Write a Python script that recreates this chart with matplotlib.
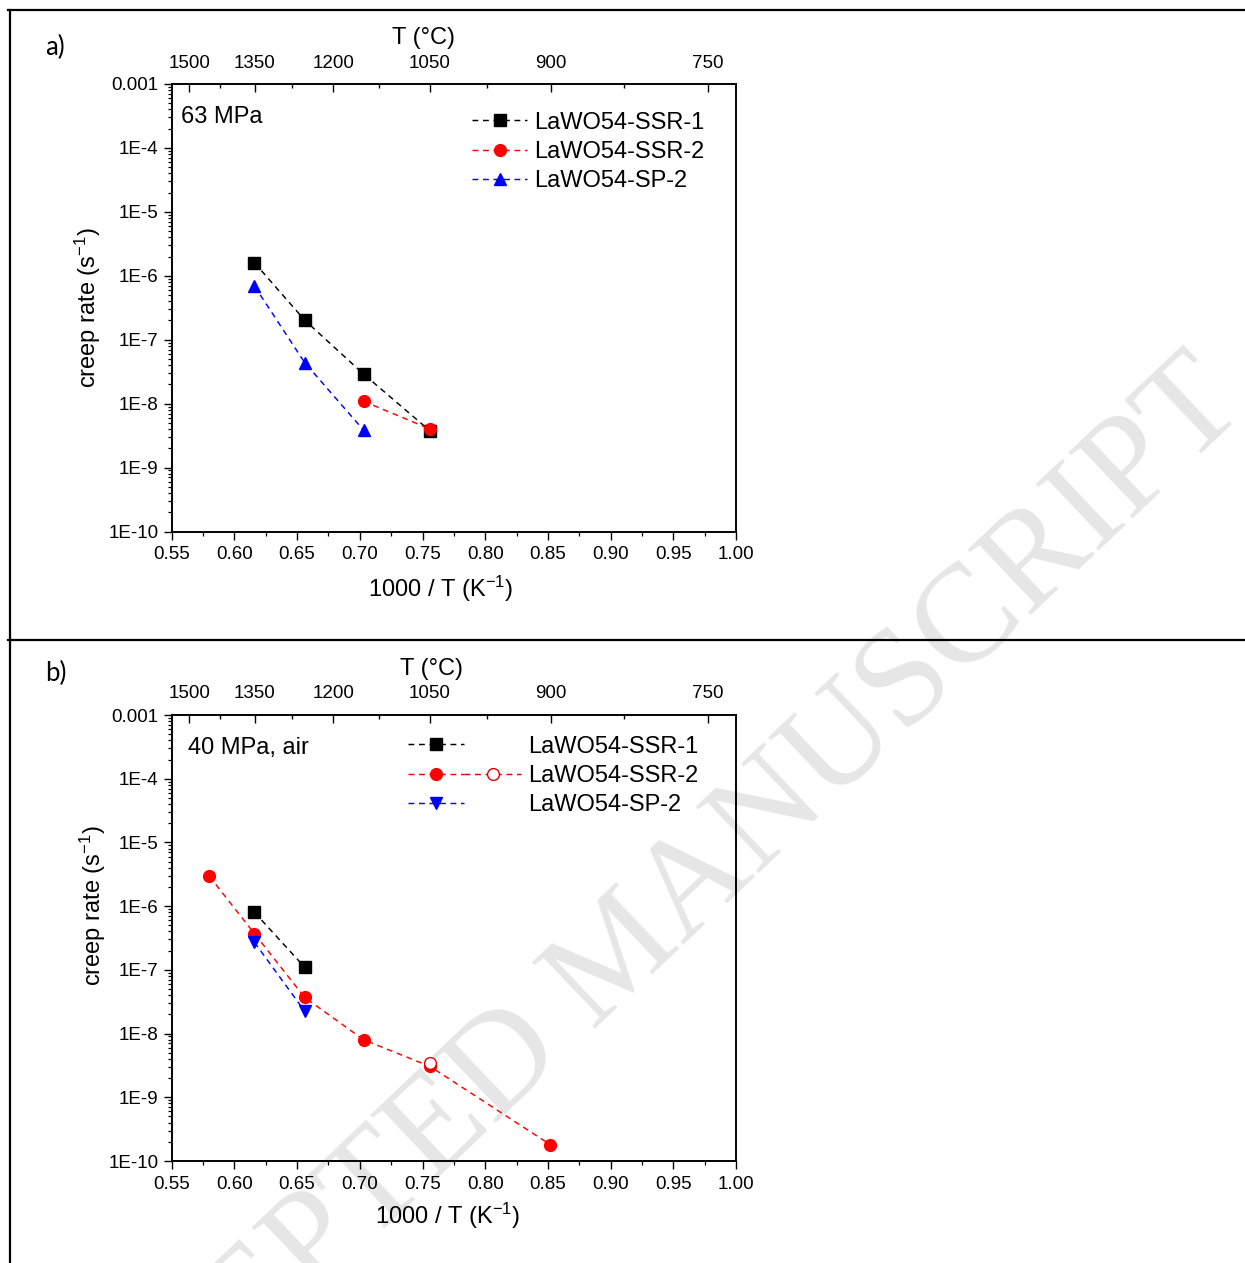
import matplotlib
matplotlib.use('Agg')
import matplotlib.pyplot as plt
from matplotlib.lines import Line2D
from matplotlib.legend_handler import HandlerTuple
from matplotlib.ticker import FixedLocator, LogLocator, NullFormatter

plt.rcParams['font.family'] = ['Liberation Sans', 'DejaVu Sans']
plt.rcParams['mathtext.default'] = 'regular'

# ---------------- data ----------------
series_names = ['LaWO54-SSR-1', 'LaWO54-SSR-2', 'LaWO54-SP-2']

# panel a) 63 MPa
a_ssr1_x = [0.616, 0.656, 0.703, 0.756]
a_ssr1_y = [1.6e-6, 2.03e-7, 2.9e-8, 3.75e-9]
a_ssr2_x = [0.703, 0.756]
a_ssr2_y = [1.09e-8, 4.0e-9]
a_sp2_x = [0.616, 0.656, 0.703]
a_sp2_y = [6.9e-7, 4.4e-8, 3.85e-9]

# panel b) 40 MPa, air
b_ssr1_x = [0.616, 0.656]
b_ssr1_y = [8.0e-7, 1.1e-7]
b_ssr2_x = [0.580, 0.616, 0.656, 0.703, 0.756, 0.852]
b_ssr2_y = [2.95e-6, 3.7e-7, 3.7e-8, 8.0e-9, 3.05e-9, 1.8e-10]
b_ssr2_open_x = [0.756]
b_ssr2_open_y = [3.5e-9]
b_sp2_x = [0.616, 0.656]
b_sp2_y = [2.7e-7, 2.25e-8]

x_ticks = [0.55, 0.60, 0.65, 0.70, 0.75, 0.80, 0.85, 0.90, 0.95, 1.00]
x_minor = [0.575, 0.625, 0.675, 0.725, 0.775, 0.825, 0.875, 0.925, 0.975]
y_ticks = [1e-3, 1e-4, 1e-5, 1e-6, 1e-7, 1e-8, 1e-9, 1e-10]
y_labels = ['0.001', '1E-4', '1E-5', '1E-6', '1E-7', '1E-8', '1E-9', '1E-10']
T_major = [1500, 1350, 1200, 1050, 900, 750]
T_minor = [1425, 1275, 1125, 975, 825]

# ---------------- figure ----------------
W, H = 1245, 1263
fig = plt.figure(figsize=(W / 100, H / 100), dpi=100)


def fx(px):
    return px / W


def fy(py):
    return 1 - py / H


LS = (0, (4, 3.2))
TICK_FS = 13.5
LAB_FS = 17


def style_axes(ax, ax_top):
    ax.set_xscale('linear')
    ax.set_yscale('log')
    ax.set_xlim(0.55, 1.00)
    ax.set_ylim(1e-10, 1e-3)
    ax.set_facecolor('none')
    ax.xaxis.set_major_locator(FixedLocator(x_ticks))
    ax.set_xticklabels(['%.2f' % v for v in x_ticks])
    ax.xaxis.set_minor_locator(FixedLocator(x_minor))
    ax.yaxis.set_major_locator(FixedLocator(y_ticks))
    ax.set_yticklabels(y_labels)
    ax.yaxis.set_minor_locator(LogLocator(base=10, subs=range(2, 10), numticks=20))
    ax.yaxis.set_minor_formatter(NullFormatter())
    ax.tick_params(which='major', direction='out', length=5.5, width=1.0,
                   labelsize=TICK_FS, top=False, right=False, pad=4)
    ax.tick_params(which='minor', direction='out', length=3, width=0.9,
                   top=False, right=False)
    ax.tick_params(axis='x', which='major', pad=5)
    for s in ax.spines.values():
        s.set_linewidth(1.2)
    ax_top.set_xlim(0.55, 1.00)
    ax_top.set_facecolor('none')
    ax_top.set_xticks([1000 / (t + 273.15) for t in T_major])
    ax_top.set_xticklabels([str(t) for t in T_major])
    ax_top.set_xticks([1000 / (t + 273.15) for t in T_minor], minor=True)
    ax_top.tick_params(which='major', direction='in', length=5.5, width=1.0,
                       labelsize=TICK_FS, pad=9)
    ax_top.tick_params(which='minor', direction='in', length=3, width=1.0)
    for s in ax_top.spines.values():
        s.set_linewidth(1.2)


# ---------- panel a ----------
ax_a = fig.add_axes([fx(171.7), fy(531.5), fx(736) - fx(171.7), fy(84) - fy(531.5)])
ax_a_top = ax_a.twiny()
style_axes(ax_a, ax_a_top)

la1, = ax_a.plot(a_ssr1_x, a_ssr1_y, color='black', ls=LS, lw=1.05,
                 marker='s', ms=8, mec='black', mfc='black', label=series_names[0])
la2, = ax_a.plot(a_ssr2_x, a_ssr2_y, color='#ff0000', ls=LS, lw=1.05,
                 marker='o', ms=8.5, mec='#ff0000', mfc='#ff0000', label=series_names[1])
la3, = ax_a.plot(a_sp2_x, a_sp2_y, color='#0000ff', ls=LS, lw=1.05,
                 marker='^', ms=9, mec='#0000ff', mfc='#0000ff', label=series_names[2])

ax_a.legend(handles=[la1, la2, la3], loc='upper left',
            bbox_to_anchor=(0.532, 0.938), frameon=False, fontsize=LAB_FS,
            handlelength=2.35, handletextpad=0.3, labelspacing=0.31,
            borderpad=0, borderaxespad=0, numpoints=1)

ax_a.text(0.017, 0.926, '63 MPa', transform=ax_a.transAxes, fontsize=LAB_FS,
          ha='left', va='center')
ax_a.set_xlabel('1000 / T (K$^{-1}$)', fontsize=LAB_FS)
ax_a.xaxis.label.set_va('center')
ax_a.xaxis.set_label_coords(0.477, -0.1285)
ax_a.set_ylabel('creep rate (s$^{-1}$)', fontsize=LAB_FS)
ax_a.yaxis.set_label_coords(-0.122, 0.5)
ax_a_top.set_xlabel('T (\u00b0C)', fontsize=LAB_FS)
ax_a_top.xaxis.label.set_va('center')
ax_a_top.xaxis.set_label_coords(0.447, 1.103)

# ---------- panel b ----------
ax_b = fig.add_axes([fx(171.7), fy(1161), fx(736) - fx(171.7), fy(715) - fy(1161)])
ax_b_top = ax_b.twiny()
style_axes(ax_b, ax_b_top)

lb1, = ax_b.plot(b_ssr1_x, b_ssr1_y, color='black', ls=LS, lw=1.05,
                 marker='s', ms=8, mec='black', mfc='black')
lb2, = ax_b.plot(b_ssr2_x, b_ssr2_y, color='#ff0000', ls=LS, lw=1.05,
                 marker='o', ms=8.5, mec='#ff0000', mfc='#ff0000')
lb2o, = ax_b.plot(b_ssr2_open_x, b_ssr2_open_y, color='#e00000', ls=LS, lw=1.05,
                  marker='o', ms=8.5, mec='#e00000', mfc='white', mew=1.0)
lb3, = ax_b.plot(b_sp2_x, b_sp2_y, color='#0000ff', ls=LS, lw=1.05,
                 marker='v', ms=9, mec='#0000ff', mfc='#0000ff')

blank = Line2D([], [], ls='none', marker='none')
ax_b.legend(handles=[(lb1, blank), (lb2, lb2o), (lb3, blank)],
            labels=series_names, loc='upper left',
            bbox_to_anchor=(0.418, 0.954), frameon=False, fontsize=LAB_FS,
            handlelength=4.8, handletextpad=0.3, labelspacing=0.31,
            borderpad=0, borderaxespad=0, numpoints=1,
            handler_map={tuple: HandlerTuple(ndivide=None, pad=0)})

ax_b.text(0.029, 0.926, '40 MPa, air', transform=ax_b.transAxes, fontsize=LAB_FS,
          ha='left', va='center')
ax_b.set_xlabel('1000 / T (K$^{-1}$)', fontsize=LAB_FS)
ax_b.xaxis.label.set_va('center')
ax_b.xaxis.set_label_coords(0.488, -0.123)
ax_b.set_ylabel('creep rate (s$^{-1}$)', fontsize=LAB_FS)
ax_b.yaxis.set_label_coords(-0.113, 0.572)
ax_b_top.set_xlabel('T (\u00b0C)', fontsize=LAB_FS)
ax_b_top.xaxis.label.set_va('center')
ax_b_top.xaxis.set_label_coords(0.461, 1.103)

# ---------- panel letters ----------
fig.text(fx(45), fy(47), 'a)', fontsize=18.5, family=['Lato', 'DejaVu Sans'],
         ha='left', va='center')
fig.text(fx(45), fy(673), 'b)', fontsize=18.5, family=['Lato', 'DejaVu Sans'],
         ha='left', va='center')

# ---------- table borders ----------
for (x0, y0, x1, y1) in [(8, 10, 1245, 10), (8, 640, 1245, 640), (9.5, 10, 9.5, 1263)]:
    fig.add_artist(Line2D([fx(x0), fx(x1)], [fy(y0), fy(y1)], color='black',
                          lw=1.6, transform=fig.transFigure))

# ---------- watermark ----------
fig.text(fx(622), fy(957), 'ACCEPTED MANUSCRIPT', fontsize=101,
         family=['Liberation Serif', 'DejaVu Serif'], color='#e6e6e6',
         rotation=43.5, rotation_mode='anchor', ha='center', va='center', zorder=-5)

fig.savefig('out.png', dpi=100)
